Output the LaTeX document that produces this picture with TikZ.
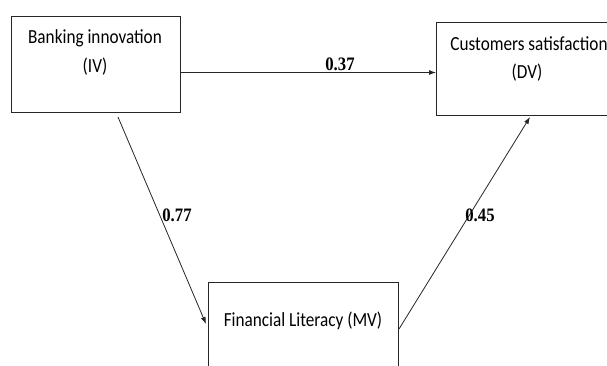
\documentclass[tikz,border=0pt]{standalone}
\usepackage{fontspec}
\setmainfont{Carlito}[FakeStretch=0.86]
\newfontfamily\numfont{Liberation Serif}[FakeStretch=0.88]
\usetikzlibrary{arrows.meta}
\begin{document}
\begin{tikzpicture}[x=1pt,y=-1pt,
  box/.style={draw=black!85,line width=0.9pt,inner sep=0pt},
  lbl/.style={font=\fontsize{20}{24}\selectfont,align=center,inner sep=0pt},
  coef/.style={font=\numfont\bfseries\fontsize{19}{22}\selectfont,inner sep=0pt},
  conn/.style={draw=black!85,line width=0.8pt,-{Latex[length=7pt,width=5pt]}}]
\useasboundingbox (0,0) rectangle (607,365);
\clip (0,0) rectangle (607,365);
\fill[white] (0,0) rectangle (607,365);
\draw[box] (11,16) rectangle (180,112);
\node[lbl] (ta) at (95,38) {Banking innovation};
\node[lbl] (ta2) at (95,67) {(IV)};
\draw[box] (436,22) rectangle (619,115);
\node[lbl] (tb) at (529,44) {Customers satisfaction};
\node[lbl] (tb2) at (527,73) {(DV)};
\draw[box] (208,282) rectangle (398,380);
\node[lbl] (tc) at (303,321) {Financial Literacy (MV)};
\coordinate (a1) at (180,72.5);
\coordinate (b1) at (436,72.5);
\coordinate (a2) at (118,117);
\coordinate (c1) at (206,324);
\coordinate (c2) at (399,329);
\coordinate (b2) at (530,117);
\draw[conn] (a1) -- (b1);
\draw[conn] (a2) -- (c1);
\draw[conn] (c2) -- (b2);
\node[coef] (n1) at (340,64) {0.37};
\node[coef] (n2) at (177,215) {0.77};
\node[coef] (n3) at (480,215) {0.45};
\end{tikzpicture}
\end{document}
